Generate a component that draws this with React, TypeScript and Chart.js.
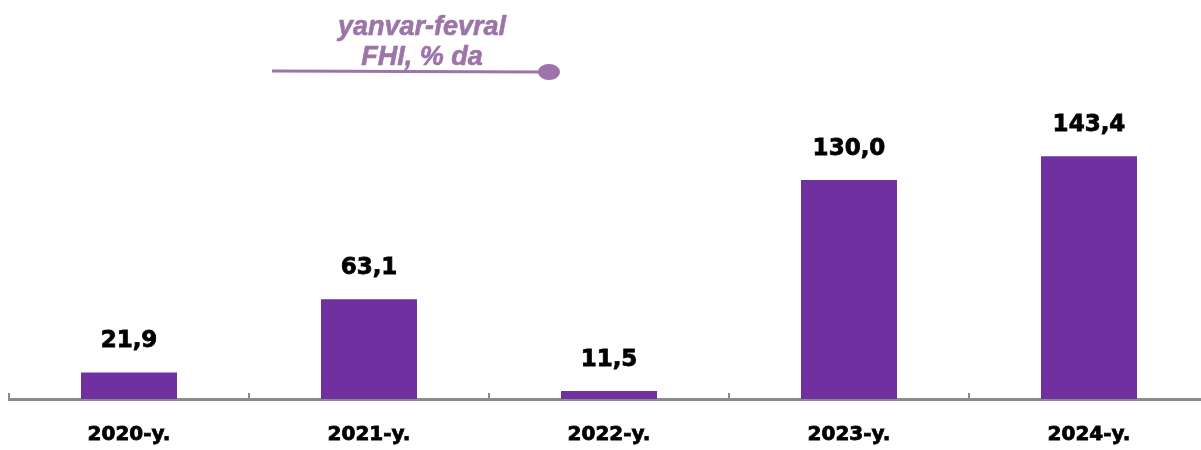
import React, { useEffect, useRef } from "react";
import { Chart, registerables } from "chart.js";

Chart.register(...registerables);

const categories = ["2020-y.", "2021-y.", "2022-y.", "2023-y.", "2024-y."];
const values = [21.9, 63.1, 11.5, 130.0, 143.4];
const valueLabels = ["21,9", "63,1", "11,5", "130,0", "143,4"];
const titleLines = ["yanvar-fevral", "FHI, % da"];

const BAR_COLOR = "#7030A0";
const TITLE_COLOR = "#9C74AA";
const AXIS_COLOR = "#8C8C8C";

const overlayPlugin = {
  id: "overlay",
  afterDatasetsDraw(chart: any) {
    const ctx = chart.ctx;
    const meta = chart.getDatasetMeta(0);
    ctx.save();
    // value labels
    ctx.fillStyle = "#000000";
    ctx.strokeStyle = "#000000";
    ctx.lineWidth = 0.8;
    ctx.font = "bold 23px 'DejaVu Sans'";
    ctx.textAlign = "center";
    ctx.textBaseline = "alphabetic";
    meta.data.forEach((bar: any, i: number) => {
      ctx.fillText(valueLabels[i], bar.x, bar.y - 25);
      ctx.strokeText(valueLabels[i], bar.x, bar.y - 25);
    });
    // tick marks upward at category boundaries
    const xs = chart.scales.x;
    const area = chart.chartArea;
    ctx.strokeStyle = AXIS_COLOR;
    ctx.lineWidth = 2;
    const n = categories.length;
    const bounds: number[] = [area.left];
    for (let i = 1; i < n; i++) {
      bounds.push((xs.getPixelForValue(i - 1) + xs.getPixelForValue(i)) / 2);
    }
    bounds.push(area.right);
    bounds.forEach((b) => {
      const px = Math.round(b);
      ctx.beginPath();
      ctx.moveTo(px, area.bottom - 6);
      ctx.lineTo(px, area.bottom);
      ctx.stroke();
    });
    // title
    ctx.fillStyle = TITLE_COLOR;
    ctx.strokeStyle = TITLE_COLOR;
    ctx.lineWidth = 0.6;
    ctx.font = "italic bold 27px 'Liberation Sans'";
    ctx.textAlign = "center";
    ctx.fillText(titleLines[0], 422, 35);
    ctx.strokeText(titleLines[0], 422, 35);
    ctx.fillText(titleLines[1], 422, 65);
    ctx.strokeText(titleLines[1], 422, 65);
    ctx.lineWidth = 3;
    ctx.beginPath();
    ctx.moveTo(272, 71);
    ctx.lineTo(545, 72);
    ctx.stroke();
    ctx.beginPath();
    ctx.ellipse(549, 72, 11, 8, 0, 0, Math.PI * 2);
    ctx.fill();
    ctx.restore();
  },
};

export default function App() {
  const ref = useRef<HTMLCanvasElement | null>(null);
  useEffect(() => {
    if (!ref.current) return;
    const chart = new Chart(ref.current, {
      type: "bar",
      data: {
        labels: categories,
        datasets: [
          {
            data: values,
            backgroundColor: BAR_COLOR,
            categoryPercentage: 1,
            barPercentage: 0.4,
          },
        ],
      },
      options: {
        animation: false,
        responsive: false,
        devicePixelRatio: 1,
        layout: { padding: { left: 9, right: 11, top: 100, bottom: 0 } },
        plugins: { legend: { display: false }, tooltip: { enabled: false } },
        scales: {
          x: {
            offset: true,
            grid: { display: true, drawOnChartArea: false, drawTicks: false, offset: true, color: "rgba(0,0,0,0)" },
            border: { display: true, color: AXIS_COLOR, width: 3 },
            ticks: {
              color: "#000000",
              textStrokeColor: "#000000",
              textStrokeWidth: 0.8,
              font: { family: "'DejaVu Sans'", size: 20, weight: "bold" },
              padding: 24,
            },
          },
          y: {
            display: false,
            min: 7,
            max: 175,
          },
        },
      },
      plugins: [overlayPlugin],
    });
    return () => chart.destroy();
  }, []);
  return (
    <div style={{ position: "absolute", left: 0, top: 0, width: 1201, height: 450, overflow: "hidden" }}>
      <canvas ref={ref} width={1220} height={471} style={{ width: 1220, height: 471, display: "block" }} />
    </div>
  );
}
